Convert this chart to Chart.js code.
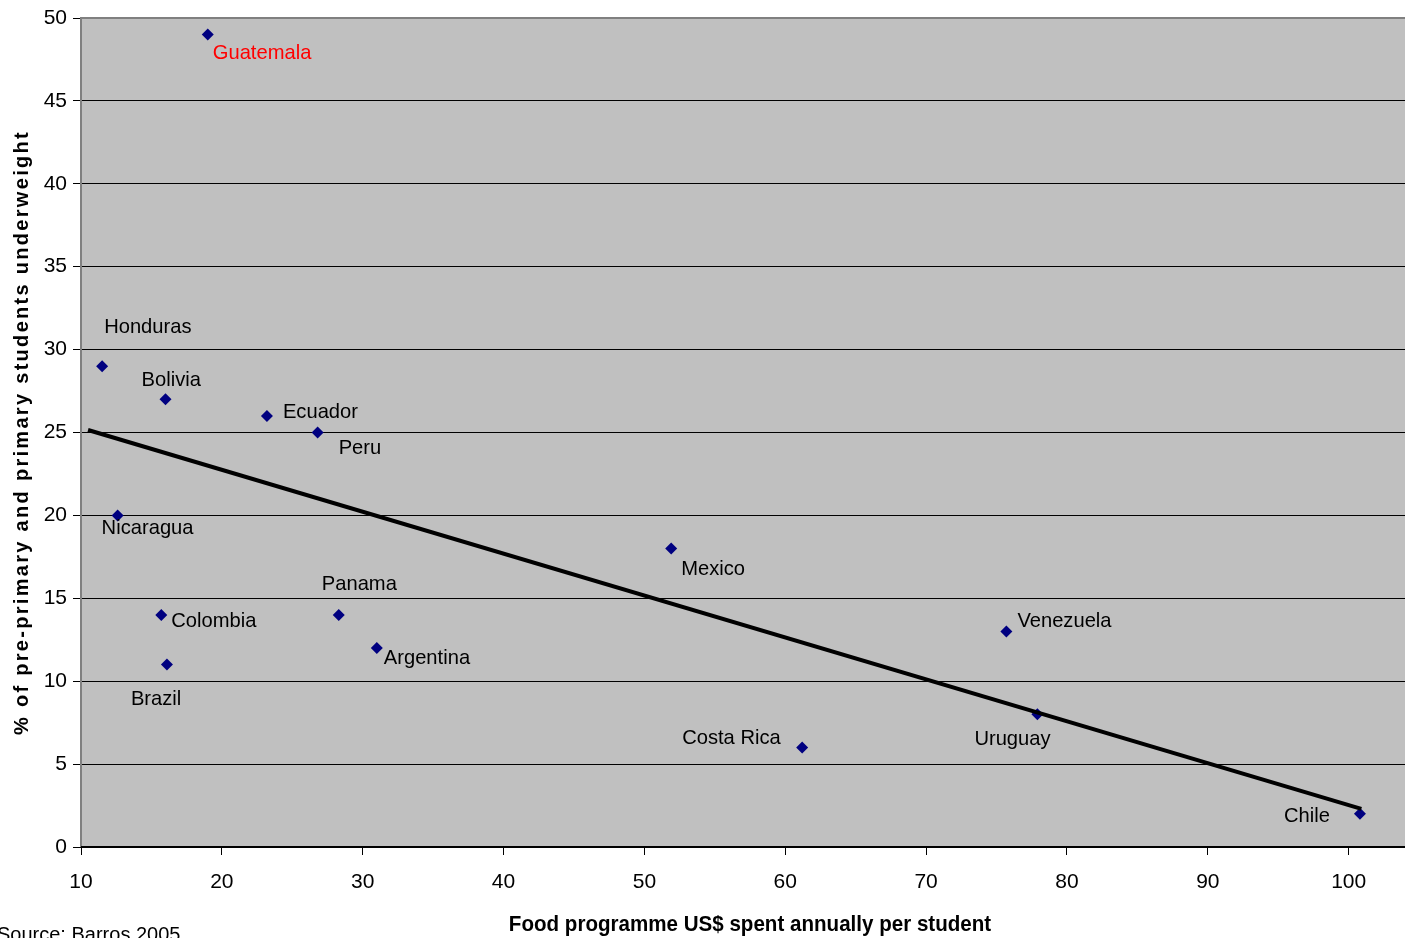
<!DOCTYPE html>
<html>
<head>
<meta charset="utf-8">
<script src="https://cdn.jsdelivr.net/npm/chart.js@4/dist/chart.umd.min.js"></script>
<style>
  html, body { margin: 0; padding: 0; background: #fff; overflow: hidden; }
  canvas { display: block; }
</style>
</head>
<body>
<canvas id="chart" width="1405" height="938"></canvas>
<script>
// Countries and values
const countries = ['Guatemala', 'Honduras', 'Bolivia', 'Ecuador', 'Peru', 'Nicaragua', 'Mexico',
    'Panama', 'Colombia', 'Argentina', 'Brazil', 'Venezuela', 'Uruguay', 'Costa Rica', 'Chile'];
const spending = [19.0, 11.5, 16.0, 23.2, 26.8, 12.6, 51.9, 28.3, 15.7, 31.0, 16.1, 75.7, 77.9, 61.2, 100.8];
const underweight = [49, 29, 27, 26, 25, 20, 18, 14, 14, 12, 11, 13, 8, 6, 2];

// Trend line end points
const trendX = [10.5, 100.9];
const trendY = [25.15, 2.3];

const xTicks = [10, 20, 30, 40, 50, 60, 70, 80, 90, 100];

// label offsets (px) relative to each marker: [dx, dy]
const labelOffsets = {
    'Guatemala': [5, 19], 'Honduras': [2, -39], 'Bolivia': [-24, -19], 'Ecuador': [16, -4],
    'Peru': [21, 16], 'Nicaragua': [-16, 13], 'Mexico': [10, 21], 'Panama': [-17, -31],
    'Colombia': [10, 6], 'Argentina': [7, 10], 'Brazil': [-36, 35], 'Venezuela': [11, -10],
    'Uruguay': [-63, 25], 'Costa Rica': [-120, -9], 'Chile': [-76, 2]
};

const FONT = '"Liberation Sans", Arial, sans-serif';

const backdrop = {
    id: 'backdrop',
    beforeDraw(chart) {
        const { ctx, chartArea: a } = chart;
        ctx.save();
        ctx.fillStyle = '#c0c0c0';
        ctx.fillRect(a.left, a.top, a.right - a.left, a.bottom - a.top);
        ctx.restore();
    },
    afterDraw(chart) {
        const { ctx, chartArea: a } = chart;
        ctx.save();
        // plot border
        ctx.strokeStyle = '#808080';
        ctx.lineWidth = 2;
        ctx.beginPath();
        ctx.moveTo(a.left, a.bottom);
        ctx.lineTo(a.left, a.top);
        ctx.lineTo(a.right, a.top);
        ctx.stroke();
        ctx.strokeStyle = '#000';
        ctx.beginPath();
        ctx.moveTo(a.left, a.bottom);
        ctx.lineTo(a.right, a.bottom);
        ctx.stroke();

        // point labels
        const meta = chart.getDatasetMeta(1);
        ctx.font = '21px ' + FONT;
        ctx.textBaseline = 'middle';
        ctx.textAlign = 'left';
        meta.data.forEach((pt, i) => {
            const name = countries[i];
            const off = labelOffsets[name];
            ctx.fillStyle = name === 'Guatemala' ? '#ff0000' : '#000';
            ctx.save();
            ctx.translate(pt.x + off[0], pt.y + off[1]);
            ctx.scale(0.96, 1);
            ctx.fillText(name, 0, 0);
            ctx.restore();
        });

        // y axis title
        ctx.fillStyle = '#000';
        ctx.font = 'bold 20px ' + FONT;
        ctx.letterSpacing = '2.3px';
        ctx.textAlign = 'center';
        ctx.translate(22, (a.top + a.bottom) / 2);
        ctx.rotate(-Math.PI / 2);
        ctx.fillText('% of pre-primary and primary students underweight', 0, 0);
        ctx.setTransform(1, 0, 0, 1, 0, 0);
        ctx.letterSpacing = '0px';

        // x axis title
        ctx.font = 'bold 22px ' + FONT;
        ctx.textAlign = 'center';
        ctx.save();
        ctx.translate(750, 925);
        ctx.scale(0.935, 1);
        ctx.fillText('Food programme US$ spent annually per student', 0, 0);
        ctx.restore();

        // source
        ctx.font = '20px ' + FONT;
        ctx.textAlign = 'left';
        ctx.textBaseline = 'alphabetic';
        ctx.fillText('Source: Barros 2005', -3, 941);
        ctx.restore();
    }
};

new Chart(document.getElementById('chart'), {
    type: 'scatter',
    data: {
        datasets: [
            {
                type: 'line',
                data: trendX.map((x, i) => ({ x, y: trendY[i] })),
                borderColor: '#000',
                borderWidth: 4,
                pointRadius: 0,
                fill: false
            },
            {
                data: spending.map((x, i) => ({ x, y: underweight[i] })),
                pointStyle: 'rectRot',
                pointRadius: 6,
                pointHoverRadius: 6,
                backgroundColor: '#000080',
                borderColor: '#000080',
                borderWidth: 0
            }
        ]
    },
    options: {
        responsive: false,
        animation: false,
        layout: { autoPadding: false, padding: { left: 0, top: 18, right: 0, bottom: 0 } },
        plugins: {
            legend: { display: false },
            tooltip: { enabled: false }
        },
        scales: {
            x: {
                type: 'linear',
                min: 10,
                max: 104,
                afterBuildTicks: (scale) => { scale.ticks = xTicks.map(v => ({ value: v })); },
                afterFit: (scale) => {
                    scale.height = 91;
                    scale.paddingLeft = 0;
                    scale.paddingRight = 0;
                },
                grid: { drawOnChartArea: false, color: '#000', tickLength: 8, drawTicks: true },
                border: { display: false },
                ticks: { color: '#000', font: { family: FONT, size: 21 }, padding: 15, maxRotation: 0 }
            },
            y: {
                min: 0,
                max: 50,
                afterFit: (scale) => {
                    scale.width = 81;
                    scale.paddingTop = 0;
                    scale.paddingBottom = 0;
                },
                grid: { color: '#000', lineWidth: 1, tickLength: 8 },
                border: { display: false },
                ticks: { stepSize: 5, color: '#000', font: { family: FONT, size: 21 }, padding: 6 }
            }
        }
    },
    plugins: [backdrop]
});
</script>
</body>
</html>
